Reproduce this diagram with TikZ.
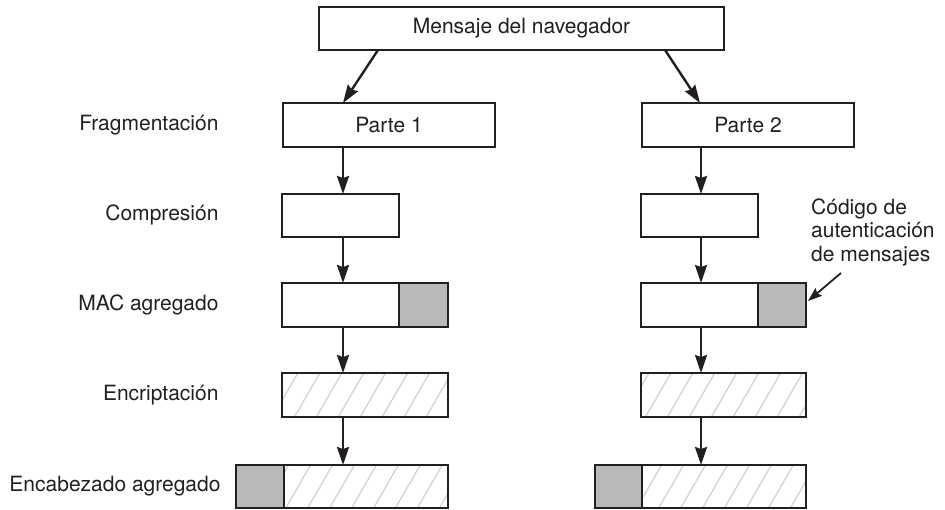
\documentclass[tikz,border=0pt]{standalone}
\usepackage{fontspec}
\setmainfont{TeX Gyre Heros}
\usetikzlibrary{arrows.meta,patterns.meta,calc}
\definecolor{ink}{RGB}{35,31,32}
\begin{document}
\begin{tikzpicture}[x=1pt,y=-1pt,
  every node/.style={font=\fontsize{21}{25}\selectfont, text=ink},
  box/.style={draw=ink, line width=1.3pt, fill=white, minimum height=44pt, inner sep=0pt, outer sep=0pt, anchor=north west},
  graybox/.style={box, fill=gray!55},
  hatchbox/.style={draw=ink, line width=1.3pt, minimum height=44pt, inner sep=0pt, outer sep=0pt, anchor=north west,
     pattern={Lines[angle=60,distance=19pt,line width=1.3pt]}, pattern color=gray!35},
  flow/.style={draw=ink, line width=2.4pt, -{Stealth[length=18pt,width=12pt,inset=2pt]}},
  callout/.style={draw=ink, line width=1.8pt, -{Stealth[length=14pt,width=10pt,inset=2pt]}},
  lbl/.style={anchor=east}
]
\useasboundingbox (0,0) rectangle (945,509);

% top
\node[box, minimum width=405pt, minimum height=43pt] (top) at (319,7) {Mensaje del navegador};

% left column
\node[box, minimum width=212pt] (p1) at (283,103) {Parte 1};
\node[box, minimum width=117pt, minimum height=43pt] (c1) at (282,194) {};
\node[box, minimum width=117pt] (m1) at (282,283) {};
\node[graybox, minimum width=49pt] (g1) at (399,283) {};
\node[hatchbox, minimum width=166pt] (e1) at (282,373) {};
\node[graybox, minimum width=48pt, minimum height=43pt] (h1) at (236,465) {};
\node[hatchbox, minimum width=164pt, minimum height=43pt] (k1) at (284,465) {};

% right column
\node[box, minimum width=212pt] (p2) at (642,103) {Parte 2};
\node[box, minimum width=117pt, minimum height=43pt] (c2) at (641,194) {};
\node[box, minimum width=117pt] (m2) at (641,283) {};
\node[graybox, minimum width=48pt] (g2) at (758,283) {};
\node[hatchbox, minimum width=165pt] (e2) at (641,373) {};
\node[graybox, minimum width=47pt, minimum height=43pt] (h2) at (595,465) {};
\node[hatchbox, minimum width=164pt, minimum height=43pt] (k2) at (642,465) {};

% labels
\node[lbl] (l1) at (222,125) {Fragmentación};
\node[lbl] (l2) at (222,215) {Compresión};
\node[lbl] (l3) at (222,305) {MAC agregado};
\node[lbl] (l4) at (222,395) {Encriptación};
\node[lbl] (l5) at (224,486) {Encabezado agregado};

% callout text
\node[anchor=base west, inner sep=0pt] (t1) at (811,214) {Código de};
\node[anchor=base west, inner sep=0pt] (t2) at (811,237.5) {autenticación};
\node[anchor=base west, inner sep=0pt] (t3) at (811,261) {de mensajes};

% arrow columns
\coordinate (L) at (343,0);
\coordinate (R) at (701,0);

\draw[flow] ($(top.south west)+(59,0)$) -- ($(p1.north west)+(60,0)$);
\draw[flow] ($(top.south east)+(-59,0)$) -- ($(p2.north west)+(58,0)$);

\draw[flow] (p1.south -| L) -- (c1.north -| L);
\draw[flow] (c1.south -| L) -- (m1.north -| L);
\draw[flow] (m1.south -| L) -- (e1.north -| L);
\draw[flow] (e1.south -| L) -- (k1.north -| L);

\draw[flow] (p2.south -| R) -- (c2.north -| R);
\draw[flow] (c2.south -| R) -- (m2.north -| R);
\draw[flow] (m2.south -| R) -- (e2.north -| R);
\draw[flow] (e2.south -| R) -- (k2.north -| R);

\coordinate (cs) at (841,273);
\draw[callout] (cs) -- ($(g2.east)+(2,-4)$);
\end{tikzpicture}
\end{document}
